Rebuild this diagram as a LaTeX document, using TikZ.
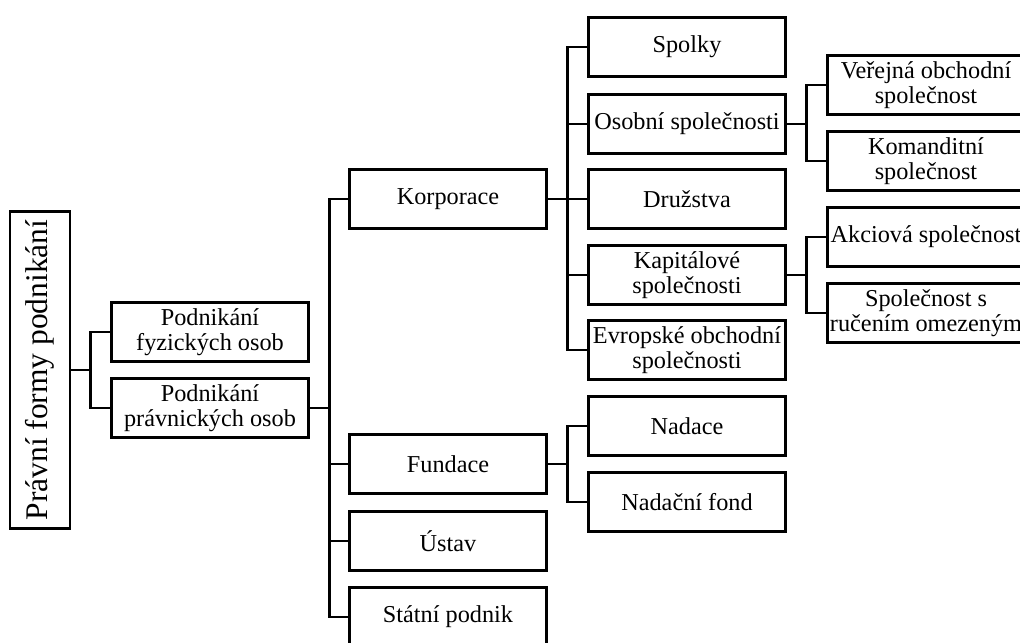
\documentclass[tikz,border=0pt]{standalone}
\usepackage{fontspec}
\setmainfont{Liberation Serif}
\usetikzlibrary{positioning}

\tikzset{
    box/.style={draw, line width=2.2pt, minimum width=148pt, minimum height=44pt,
        inner sep=1pt, align=center, font=\fontsize{18.2}{18.8}\selectfont},
    rootbox/.style={draw, line width=2.2pt, rotate=90, minimum width=238pt, minimum height=45pt,
        inner sep=1pt, font=\fontsize{23.6}{26}\selectfont},
    link/.style={line width=2.2pt}
}

\begin{document}
\begin{tikzpicture}[x=0.75pt, y=-0.75pt]
                        \clip (0, 0) rectangle (1020, 642);

                        \node[rootbox] (root) at (40, 370) {Právní formy podnikání};
                        \node[box] (fyz) at (210, 332) {Podnikání\\fyzických osob};
                        \node[box] (prav) at (210, 408) {Podnikání\\právnických osob};

                        \node[box] (korp) at (448, 199) {Korporace};
                        \node[box] (fund) at (448, 464) {Fundace};
                        \node[box] (ustav) at (448, 541) {Ústav};
                        \node[box] (stat) at (448, 617) {Státní podnik};

                        \node[box] (spolky) at (687, 47) {Spolky};
                        \node[box] (osob) at (687, 124) {Osobní společnosti};
                        \node[box] (druz) at (687, 199) {Družstva};
                        \node[box] (kapit) at (687, 275) {Kapitálové\\společnosti};
                        \node[box] (evrop) at (687, 350) {Evropské obchodní\\společnosti};
                        \node[box] (nadace) at (687, 426) {Nadace};
                        \node[box] (nfond) at (687, 502) {Nadační fond};

                        \node[box] (vos) at (926, 85) {Veřejná obchodní\\společnost};
                        \node[box] (koman) at (926, 161) {Komanditní\\společnost};
                        \node[box] (akc) at (926, 237) {Akciová společnost};
                        \node[box] (sro) at (926, 313) {Společnost s\\ručením omezeným};

                        \draw[link]
                        (root.south) -- ++(19, 0) |- (fyz.west)
                        (root.south) -- ++(19, 0) |- (prav.west);

                        \foreach \n in {korp, fund, ustav, stat}
                            \draw[link] (prav.east) -- ++(19, 0) |- (\n.west);

                        \foreach \n in {spolky, osob, druz, kapit, evrop}
                            \draw[link] (korp.east) -- ++(19, 0) |- (\n.west);

                        \foreach \n in {nadace, nfond}
                            \draw[link] (fund.east) -- ++(19, 0) |- (\n.west);

                        \foreach \n in {vos, koman}
                            \draw[link] (osob.east) -- ++(19, 0) |- (\n.west);

                        \foreach \n in {akc, sro}
                            \draw[link] (kapit.east) -- ++(19, 0) |- (\n.west);
                    \end{tikzpicture}
\end{document}
